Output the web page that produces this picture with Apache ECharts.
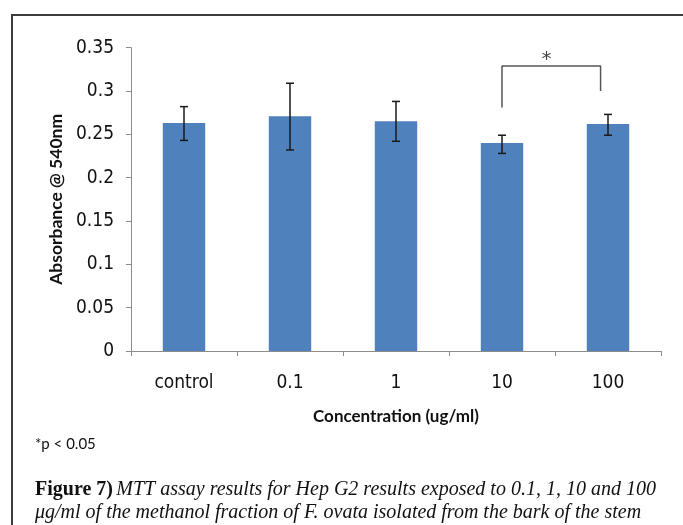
<!DOCTYPE html>
<html>
<head>
<meta charset="utf-8">
<script src="https://cdn.jsdelivr.net/npm/echarts@6/dist/echarts.min.js"></script>
<style>
  html, body { margin: 0; padding: 0; background: #fff; }
  #chart { width: 683px; height: 525px; }
</style>
</head>
<body>
<div id="chart"></div>
<script>
// Concentration groups and measured absorbance (mean with error range)
const categories = ['control', '0.1', '1', '10', '100'];
const absorbance = [0.263, 0.271, 0.265, 0.240, 0.262];
const errLow = [0.243, 0.232, 0.242, 0.228, 0.249];
const errHigh = [0.282, 0.309, 0.288, 0.249, 0.273];
const yTicks = [0, 0.05, 0.1, 0.15, 0.2, 0.25, 0.3, 0.35];

// Significance bracket between "10" and "100"
const bracketX = [3.5, 3.5, 4.43, 4.43];
const bracketY = [0.281, 0.329, 0.329, 0.300];
const starPos = [3.92, 0.336];

const narrow = "'Liberation Sans Narrow', 'DejaVu Sans Condensed', 'Liberation Sans', sans-serif";
const boldSans = "Lato, 'Open Sans', sans-serif";
const serif = "'Liberation Serif', 'DejaVu Serif', serif";

const chart = echarts.init(document.getElementById('chart'), null, { renderer: 'canvas' });

chart.setOption({
  animation: false,
  backgroundColor: '#ffffff',
  grid: { left: 131, right: 22, top: 47.7, bottom: 174, containLabel: false },
  xAxis: [
    {
      type: 'category',
      data: categories,
      axisLine: { lineStyle: { color: '#8c8c8c', width: 1 } },
      axisTick: { show: true, length: 5, alignWithLabel: false, lineStyle: { color: '#8c8c8c' } },
      axisLabel: { color: '#111', fontFamily: narrow, fontSize: 19, margin: 23 },
      name: 'Concentration (ug/ml)',
      nameLocation: 'middle',
      nameGap: 57,
      nameTextStyle: { fontFamily: boldSans, fontWeight: 'bold', fontSize: 17, color: '#111', verticalAlign: 'top' }
    },
    {
      type: 'value',
      min: 0, max: 5,
      show: false
    }
  ],
  yAxis: {
    type: 'value',
    min: 0,
    max: 0.35,
    interval: 0.05,
    splitLine: { show: false },
    axisLine: { show: true, lineStyle: { color: '#8c8c8c', width: 1 } },
    axisTick: { show: true, length: 5, lineStyle: { color: '#8c8c8c' } },
    axisLabel: {
      color: '#111', fontFamily: narrow, fontSize: 19, margin: 17,
      formatter: function (v) {
        const t = yTicks.find(function (k) { return Math.abs(k - v) < 1e-9; });
        return t === undefined ? '' : String(t);
      }
    },
    name: 'Absorbance @ 540nm',
    nameLocation: 'middle',
    nameGap: 65,
    nameRotate: 90,
    nameTextStyle: { fontFamily: boldSans, fontWeight: 'bold', fontSize: 17.5, color: '#111' }
  },
  series: [
    {
      type: 'bar',
      data: absorbance,
      barWidth: '40%',
      itemStyle: { color: '#4f81bd' },
      z: 2
    },
    {
      type: 'custom',
      z: 5,
      data: categories.map(function (c, i) { return [i, errLow[i], errHigh[i]]; }),
      renderItem: function (params, api) {
        const lo = api.coord([api.value(0), api.value(1)]);
        const hi = api.coord([api.value(0), api.value(2)]);
        const hw = 4;
        const style = { stroke: '#1a1a1a', lineWidth: 1.5 };
        return {
          type: 'group',
          children: [
            { type: 'line', shape: { x1: hi[0], y1: hi[1], x2: lo[0], y2: lo[1] }, style: style },
            { type: 'line', shape: { x1: hi[0] - hw, y1: hi[1], x2: hi[0] + hw, y2: hi[1] }, style: style },
            { type: 'line', shape: { x1: lo[0] - hw, y1: lo[1], x2: lo[0] + hw, y2: lo[1] }, style: style }
          ]
        };
      }
    },
    {
      type: 'line',
      xAxisIndex: 1,
      data: bracketX.map(function (x, i) { return [x, bracketY[i]]; }),
      symbol: 'none',
      lineStyle: { color: '#555', width: 1.5 },
      z: 4
    },
    {
      type: 'scatter',
      xAxisIndex: 1,
      data: [starPos],
      symbolSize: 0,
      label: {
        show: true, position: 'inside', formatter: '*',
        fontFamily: "'DejaVu Sans', sans-serif", fontSize: 20, color: '#111'
      }
    }
  ],
  graphic: [
    {
      type: 'rect',
      shape: { x: 12, y: 15, width: 720, height: 600 },
      style: { fill: 'none', stroke: '#3c3c3c', lineWidth: 2 },
      silent: true
    },
    {
      type: 'text',
      left: 35, top: 437,
      style: { text: '*p < 0.05', fontFamily: boldSans, fontSize: 15, fill: '#111' }
    },
    {
      type: 'text',
      left: 35, top: 478,
      style: {
        rich: {
          b: { fontFamily: serif, fontWeight: 'bold', fontSize: 20, fill: '#111' },
          i: { fontFamily: serif, fontStyle: 'italic', fontSize: 20, fill: '#111' }
        },
        text: '{b|Figure 7)} {i|MTT assay results for Hep G2 results exposed to 0.1, 1, 10 and 100}\n{i|μg/ml of the methanol fraction of F. ovata isolated from the bark of the stem}',
        lineHeight: 23
      }
    }
  ]
});
</script>
</body>
</html>
